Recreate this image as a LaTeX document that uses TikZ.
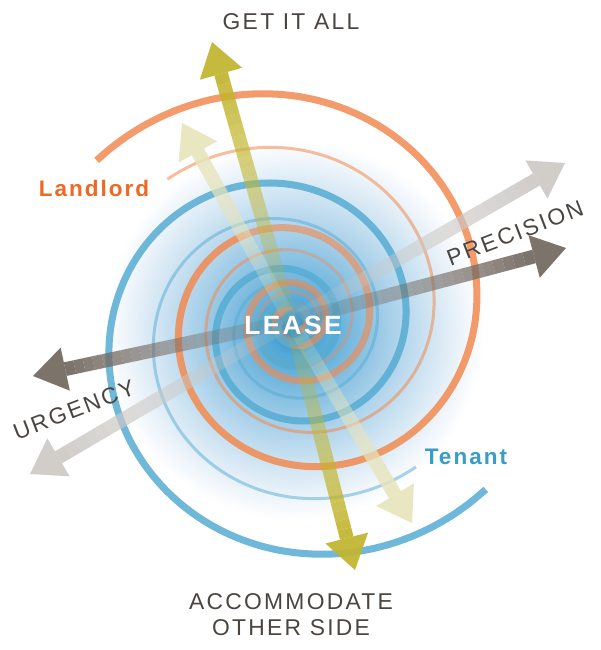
\documentclass[tikz,border=0pt]{standalone}
\usepackage{fontspec}
\setmainfont{Liberation Sans}
\newfontfamily\widefont[LetterSpace=10]{Liberation Sans}
\newfontfamily\sidefont[LetterSpace=9]{Liberation Sans}
\usetikzlibrary{calc}

\definecolor{lordorange}{HTML}{F28A50}
\definecolor{lordtext}{HTML}{EE6A24}
\definecolor{tenantblue}{HTML}{56ACD3}
\definecolor{tenanttext}{HTML}{3A9CC8}
\definecolor{olivearrow}{HTML}{C2B52E}
\definecolor{palearrow}{HTML}{E7E4BC}
\definecolor{darkarrow}{HTML}{766C64}
\definecolor{lightarrow}{HTML}{CCC9C5}
\definecolor{labelgray}{HTML}{4B4540}
\definecolor{glowA}{HTML}{2A8DC6}
\definecolor{glowB}{HTML}{4CA6D6}
\definecolor{glowC}{HTML}{7DBCE0}
\definecolor{glowD}{HTML}{A6CFE9}
\definecolor{glowE}{HTML}{CDE3F2}
\definecolor{glowF}{HTML}{EDF4FA}

\pgfdeclareradialshading{leaseglow}{\pgfpointorigin}{color(0bp)=(glowA); color(3bp)=(glowB); color(8bp)=(glowC); color(12.5bp)=(glowD); color(17.5bp)=(glowE); color(22bp)=(glowF); color(25bp)=(white); color(50bp)=(white)}

\tikzset{
  lordthick/.style={draw=lordorange, line width=4pt, draw opacity=.85},
  lordthin/.style={draw=lordorange, line width=1.7pt, draw opacity=.55},
  tenthick/.style={draw=tenantblue, line width=4pt, draw opacity=.85},
  tenthin/.style={draw=tenantblue, line width=1.7pt, draw opacity=.5},
  axislabel/.style={font=\widefont\fontsize{13}{14.7}\selectfont, text=labelgray, inner sep=0pt},
  sidelabel/.style={font=\sidefont\bfseries\fontsize{12.8}{15}\selectfont, inner sep=0pt}
}

\newcommand{\fadearrow}[3]{%
  \coordinate (hb) at ($(#2)!0.66cm!(ctr)$);
  \foreach \i in {1,...,24}{
    \pgfmathsetmacro\ta{(\i-1)/24}
    \pgfmathsetmacro\tb{\i/24}
    \pgfmathsetmacro\op{#3*(0.05+0.95*\i/24)}
    \draw[#1, line width=7.9pt, draw opacity=\op] ($(ctr)!\ta!(hb)$) -- ($(ctr)!\tb!(hb)$);
  }
  \fill[#1, opacity=#3] (#2) -- ($(hb)!0.44cm!90:(#2)$) -- ($(hb)!0.44cm!-90:(#2)$) -- cycle;
}

\begin{document}
\begin{tikzpicture}[x=0.02cm, y=-0.02cm]
    \path[use as bounding box, fill=white] (0,0) rectangle (600,650);

    \coordinate (glowc) at (294,330);
    \shade[shading=leaseglow] (glowc) circle (190);

    \draw[lordthin] plot[domain=228:620, samples=90, smooth, variable=\t]
        ({295+172*exp(-0.002479*(\t-270))*cos(\t)}, {321+172*exp(-0.002479*(\t-270))*sin(\t)});
    \draw[lordthin, draw opacity=.4] plot[domain=620:1400, samples=170, smooth, variable=\t]
        ({295+172*exp(-0.002479*(\t-270))*cos(\t)}, {321+172*exp(-0.002479*(\t-270))*sin(\t)});
    \draw[tenthin] plot[domain=47.8:1200, samples=240, smooth, variable=\t]
        ({290+169*exp(-0.002479*(\t-90))*cos(\t)}, {328+169*exp(-0.002479*(\t-90))*sin(\t)});
    \draw[lordthick] plot[domain=219:600, samples=90, smooth, variable=\t]
        ({295+225*exp(-0.002479*(\t-270))*cos(\t)}, {321+225*exp(-0.002479*(\t-270))*sin(\t)});
    \draw[lordthick, draw opacity=.62] plot[domain=600:1500, samples=190, smooth, variable=\t]
        ({295+225*exp(-0.002479*(\t-270))*cos(\t)}, {321+225*exp(-0.002479*(\t-270))*sin(\t)});
    \draw[tenthick] plot[domain=39.5:1300, samples=260, smooth, variable=\t]
        ({290+224*exp(-0.002479*(\t-90))*cos(\t)}, {328+224*exp(-0.002479*(\t-90))*sin(\t)});

    \coordinate (ctr) at (291,321);
    \coordinate (lighttipl) at (30,474);
    \coordinate (lighttipr) at (565,163);
    \coordinate (paletipu) at (182,123);
    \coordinate (paletipd) at (412,523);
    \coordinate (darktipl) at (33,376);
    \coordinate (darktipr) at (566,248);
    \coordinate (olivetipu) at (212,42);
    \coordinate (olivetipd) at (355,570);

    \fadearrow{lightarrow}{lighttipl}{0.9}
    \fadearrow{lightarrow}{lighttipr}{0.9}
    \fadearrow{palearrow}{paletipu}{0.9}
    \fadearrow{palearrow}{paletipd}{0.9}
    \fadearrow{darkarrow}{darktipl}{0.95}
    \fadearrow{darkarrow}{darktipr}{0.95}
    \fadearrow{olivearrow}{olivetipu}{0.92}
    \fadearrow{olivearrow}{olivetipd}{0.92}

    \node[axislabel] (getall) at (291,22) {GET IT ALL};
    \node[axislabel, align=center] (accommodate) at (291,615) {ACCOMMODATE\\OTHER SIDE};
    \node[axislabel, rotate=21] (urgency) at (74,410) {URGENCY};
    \node[axislabel, rotate=21] (precision) at (515,233) {PRECISION};
    \node[sidelabel, text=lordtext] (landlord) at (94,188) {Landlord};
    \node[sidelabel, text=tenanttext] (tenant) at (466,457) {Tenant};
    \node[font=\sidefont\bfseries\fontsize{15}{18}\selectfont, text=white, inner sep=0pt] (lease) at (293,325) {LEASE};
\end{tikzpicture}
\end{document}
